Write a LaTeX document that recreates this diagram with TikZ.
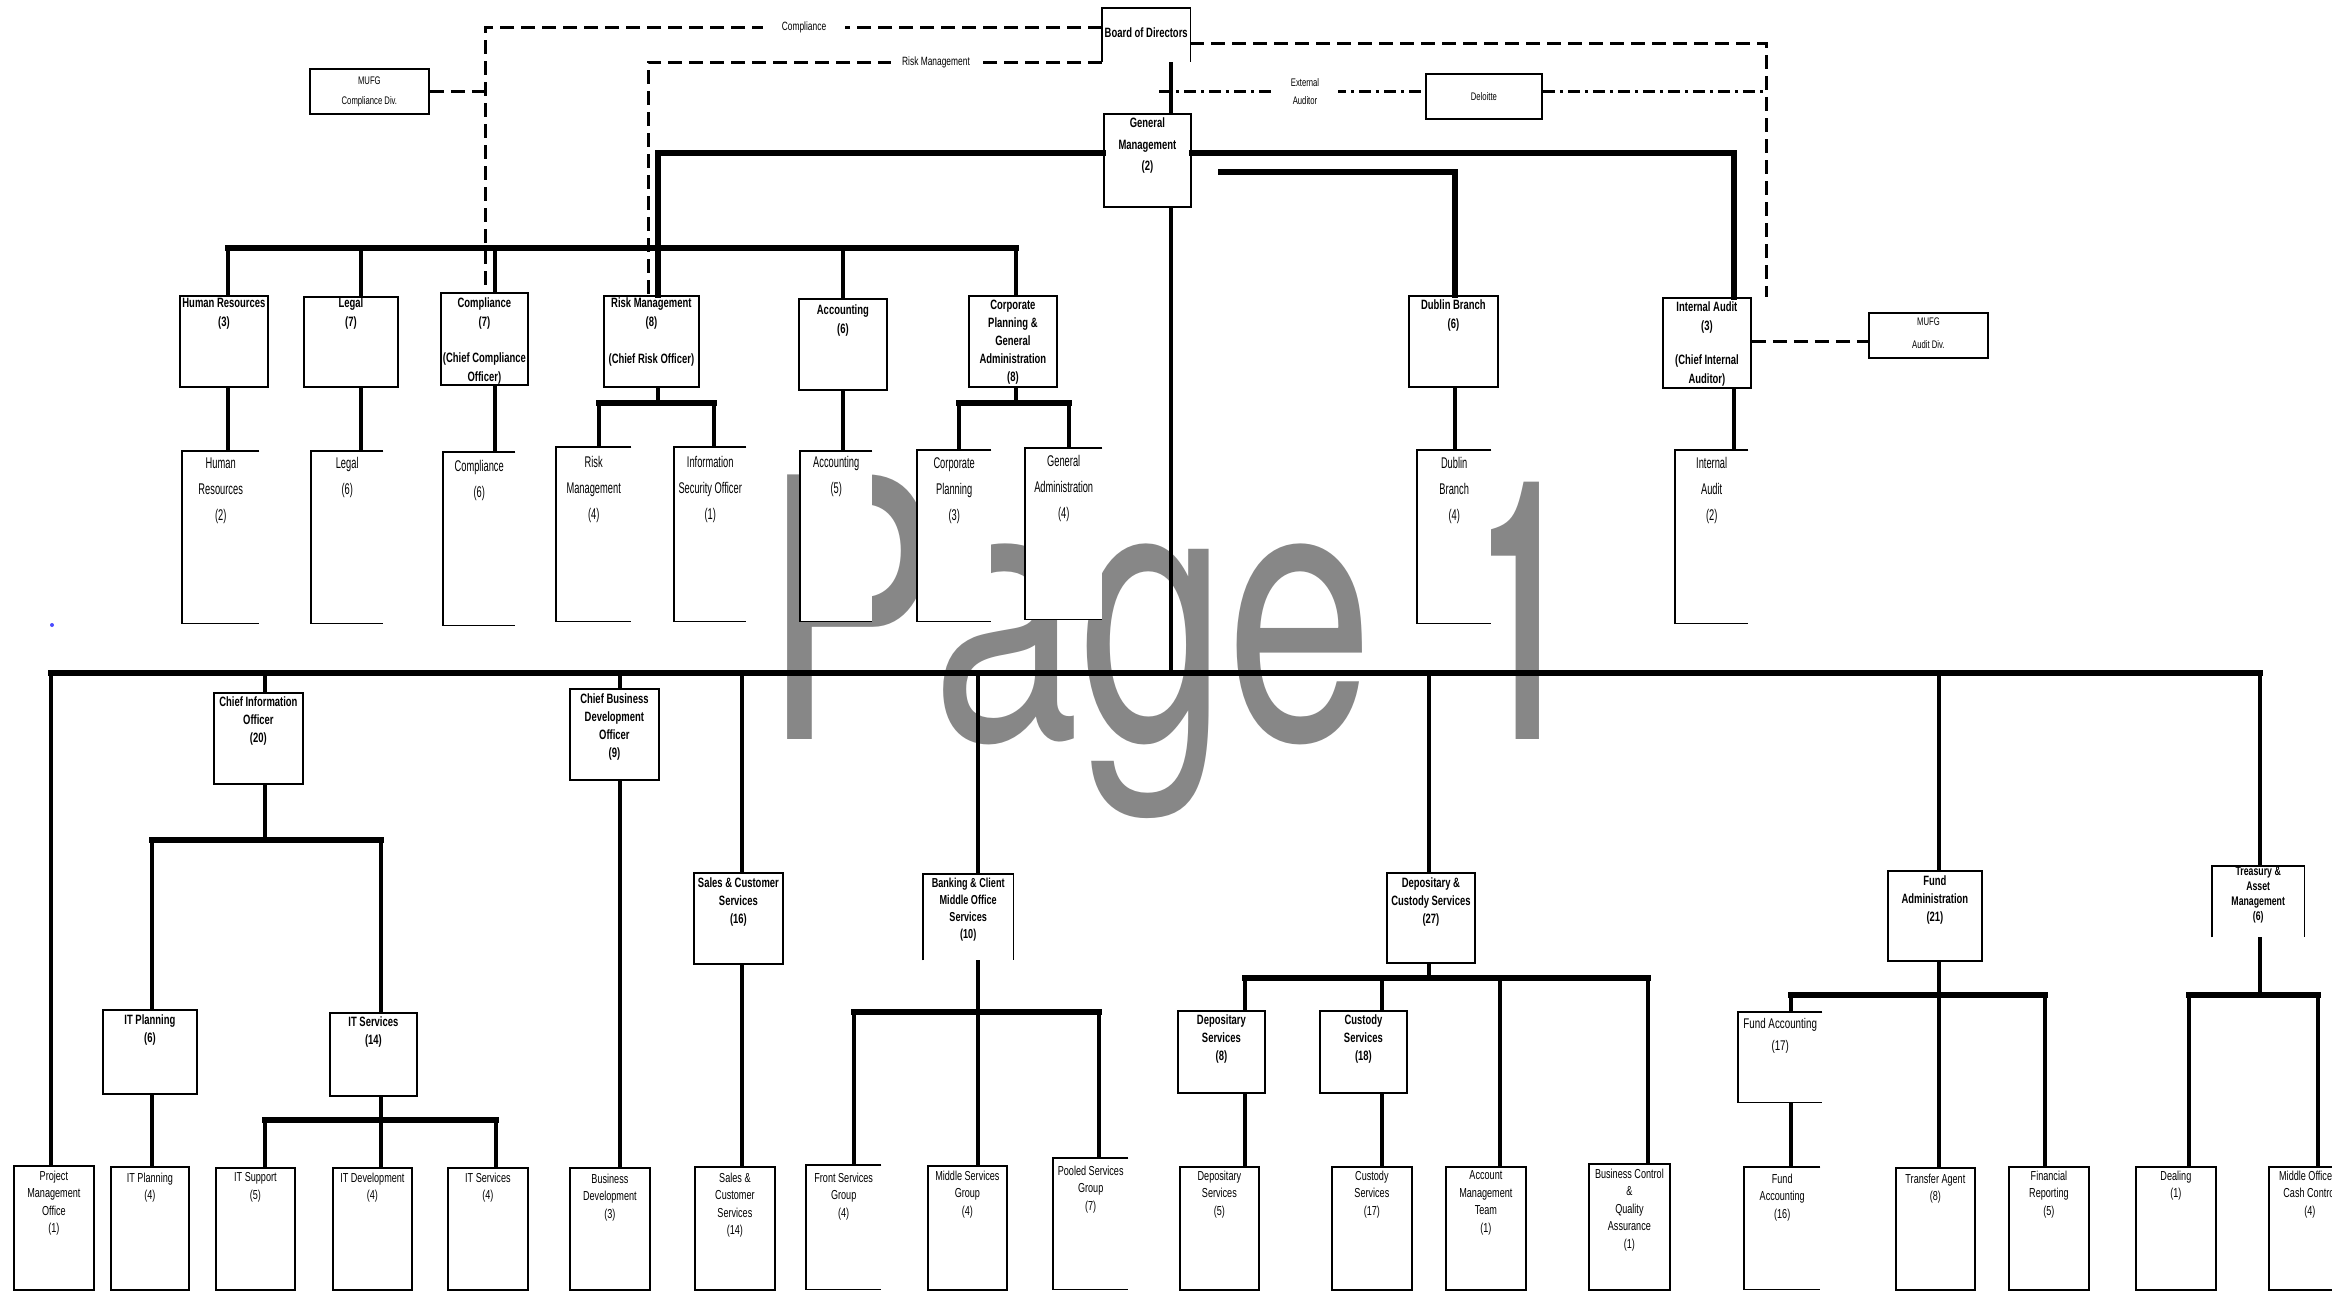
\documentclass[tikz,border=0pt]{standalone}
\usepackage{fontspec}
\newfontfamily\fntA[FakeStretch=0.7]{Liberation Sans}
\newfontfamily\fntB[FakeStretch=0.6]{Liberation Sans}
\newfontfamily\fntW[FakeStretch=0.73]{TeX Gyre Heros}
\definecolor{wmgray}{RGB}{135,135,135}
\tikzset{
 bx/.style={draw, line width=1.8pt, fill=white, inner sep=0pt, anchor=north west},
 obx/.style={fill=white, inner sep=0pt, anchor=north west},
 edg/.style={line width=1.8pt},
 conn/.style={line width=3.5pt},
 bus/.style={line width=5.5pt, line cap=rect},
 dsh/.style={line width=3pt, dash pattern=on 14pt off 7pt},
 ddot/.style={line width=3pt, dash pattern=on 12pt off 5pt on 3pt off 5pt},
 tx/.style={align=center, inner sep=0pt, anchor=north},
 hU/.style={tx, font=\fntA\bfseries\fontsize{13.5}{19}\selectfont},
 hUc/.style={tx, font=\fntA\bfseries\fontsize{13.5}{18}\selectfont},
 hUg/.style={tx, font=\fntA\bfseries\fontsize{13.5}{21.5}\selectfont},
 sU/.style={tx, font=\fntB\fontsize{15.5}{26}\selectfont},
 hL/.style={tx, font=\fntA\bfseries\fontsize{13.5}{18}\selectfont},
 hLb/.style={tx, font=\fntA\bfseries\fontsize{13}{17}\selectfont},
 hLt/.style={tx, font=\fntA\bfseries\fontsize{12.5}{15}\selectfont},
 sF/.style={tx, font=\fntA\fontsize{14}{22}\selectfont},
 sL/.style={tx, font=\fntA\fontsize{13}{17.5}\selectfont},
 sT/.style={tx, font=\fntA\fontsize{11}{20}\selectfont},
 sTa/.style={tx, font=\fntA\fontsize{11}{23}\selectfont},
 lbl/.style={align=center, fill=white, inner ysep=2pt, font=\fntA\fontsize{12}{18}\selectfont},
}
\newcommand\mkbox[9]{%
 \node[#1, minimum width=#5pt, minimum height=#6pt] (#2) at (#3,#4) {};
 \node[#7] (#2t) at ([yshift=-#8pt]#2.north) {#9};}
\newcommand\edgesR[1]{\draw[edg] (#1.north east) -- (#1.north west) -- (#1.south west) -- (#1.south east);}
\newcommand\edgesB[1]{\draw[edg] (#1.south west) -- (#1.north west) -- (#1.north east) -- (#1.south east);}
\begin{document}
\begin{tikzpicture}[x=1pt,y=-1pt]
\useasboundingbox (0,0) rectangle (2332,1291);
\clip (0,0) rectangle (2332,1291);
\fill[white] (0,0) rectangle (2332,1291);
\foreach \v in {51,152,228,265,361,381,485,495,496,599,620,648,658,714,742,843,854,959,978,1016,1069,1099,1159,1171,1221,1245,1382,1429,1455,1500,1648,1734,1766,1791,1939,2045,2189,2260,2318} {\coordinate (v\v) at (\v,0);}
\foreach \h in {27,43,62,91,153,172,248,341,403,673,840,978,995,1012,1120} {\coordinate (h\h) at (0,\h);}
% watermark
\node[font=\fntW\fontsize{363}{400}\selectfont, text=wmgray, anchor=base west, inner sep=0pt] (wm) at (763,739) {Page 1};
\node[circle, fill=blue!70, inner sep=0pt, minimum size=4pt] (dot) at (52,625) {};
% ---- top boxes
\mkbox{obx}{bod}{1102}{8}{88}{54}{hU}{20}{Board of Directors}
\edgesB{bod}
\mkbox{bx}{mufgc}{309}{68}{119}{45}{sT}{9}{MUFG\\Compliance Div.}
\mkbox{bx}{deloitte}{1425}{73}{116}{45}{sT}{19}{Deloitte}
\mkbox{bx}{gm}{1103}{113}{87}{93}{hUg}{5}{General\\Management\\(2)}
\mkbox{bx}{hr}{179}{295}{88}{91}{hU}{3}{Human Resources\\(3)}
\mkbox{bx}{legal}{303}{296}{94}{90}{hU}{2}{Legal\\(7)}
\mkbox{bx}{comp}{440}{292}{87}{92}{hU}{6}{Compliance\\(7)\\[17pt](Chief Compliance\\Officer)}
\mkbox{bx}{rm}{603}{295}{95}{91}{hU}{3}{Risk Management\\(8)\\[18pt](Chief Risk Officer)}
\mkbox{bx}{acct}{798}{298}{88}{91}{hU}{7}{Accounting\\(6)}
\mkbox{bx}{cpga}{968}{295}{88}{91}{hUc}{5}{Corporate\\Planning \&\\General\\Administration\\(8)}
\mkbox{bx}{dublin}{1408}{295}{89}{91}{hU}{5}{Dublin Branch\\(6)}
\mkbox{bx}{ia}{1662}{297}{88}{90}{hU}{5}{Internal Audit\\(3)\\[15pt](Chief Internal\\Auditor)}
\mkbox{bx}{mufga}{1868}{312}{119}{45}{sTa}{6}{MUFG\\Audit Div.}
% ---- upper sub boxes
\mkbox{obx}{hrs}{182}{451}{77}{172}{sU}{6.5}{Human\\Resources\\(2)}\edgesR{hrs}
\mkbox{obx}{legals}{311}{451}{72}{172}{sU}{6.5}{Legal\\(6)}\edgesR{legals}
\mkbox{obx}{comps}{443}{452}{72}{173}{sU}{8.5}{Compliance\\(6)}\edgesR{comps}
\mkbox{obx}{rms}{556}{447}{75}{174}{sU}{9.5}{Risk\\Management\\(4)}\edgesR{rms}
\mkbox{obx}{iso}{674}{447}{72}{174}{sU}{9.5}{Information\\Security Officer\\(1)}\edgesR{iso}
\mkbox{obx}{accts}{800}{451}{72}{170}{sU}{5.5}{Accounting\\(5)}\edgesR{accts}
\mkbox{obx}{cps}{917}{450}{74}{171}{sU}{7.5}{Corporate\\Planning\\(3)}\edgesR{cps}
\mkbox{obx}{gas}{1025}{448}{77}{171}{sU}{7.5}{General\\Administration\\(4)}\edgesR{gas}
\mkbox{obx}{dubs}{1417}{450}{74}{173}{sU}{7.5}{Dublin\\Branch\\(4)}\edgesR{dubs}
\mkbox{obx}{ias}{1675}{450}{73}{173}{sU}{7.5}{Internal\\Audit\\(2)}\edgesR{ias}
% ---- lower header boxes
\mkbox{bx}{cio}{213}{692}{89}{91}{hL}{5}{Chief Information\\Officer\\(20)}
\mkbox{bx}{cbdo}{569}{688}{89}{91}{hL}{6}{Chief Business\\Development\\Officer\\(9)}
\mkbox{bx}{scs}{693}{872}{89}{91}{hL}{6}{Sales \& Customer\\Services\\(16)}
\mkbox{obx}{bcm}{923}{874}{90}{86}{hLb}{4}{Banking \& Client\\Middle Office\\Services\\(10)}\edgesB{bcm}
\mkbox{bx}{dcs}{1386}{872}{88}{90}{hL}{6}{Depositary \&\\Custody Services\\(27)}
\mkbox{bx}{fa}{1887}{870}{94}{90}{hL}{6}{Fund\\Administration\\(21)}
\mkbox{obx}{tam}{2212}{866}{92}{71}{hLt}{0.5}{Treasury \&\\Asset\\Management\\(6)}\edgesB{tam}
\mkbox{bx}{itp}{102}{1009}{94}{84}{hL}{6}{IT Planning\\(6)}
\mkbox{bx}{its}{329}{1012}{87}{83}{hL}{5}{IT Services\\(14)}
\mkbox{bx}{ds}{1177}{1010}{87}{82}{hL}{5}{Depositary\\Services\\(8)}
\mkbox{bx}{cs}{1319}{1010}{87}{82}{hL}{5}{Custody\\Services\\(18)}
\mkbox{obx}{fac}{1738}{1012}{84}{90}{sF}{6}{Fund Accounting\\(17)}\edgesR{fac}
% ---- lower sub boxes
\mkbox{bx}{pmo}{13}{1165}{80}{124}{sL}{5.5}{Project\\Management\\Office\\(1)}
\mkbox{bx}{itps}{110}{1166}{78}{123}{sL}{6.5}{IT Planning\\(4)}
\mkbox{bx}{itsup}{215}{1167}{79}{122}{sL}{5.5}{IT Support\\(5)}
\mkbox{bx}{itdev}{332}{1167}{79}{122}{sL}{5.5}{IT Development\\(4)}
\mkbox{bx}{itsrv}{447}{1167}{80}{122}{sL}{5.5}{IT Services\\(4)}
\mkbox{bx}{bd}{569}{1167}{80}{122}{sL}{6.5}{Business\\Development\\(3)}
\mkbox{bx}{scss}{694}{1166}{80}{123}{sL}{6.5}{Sales \&\\Customer\\Services\\(14)}
\mkbox{obx}{fsg}{806}{1165}{75}{124}{sL}{7.5}{Front Services\\Group\\(4)}\edgesR{fsg}
\mkbox{bx}{msg}{927}{1165}{79}{124}{sL}{5.5}{Middle Services\\Group\\(4)}
\mkbox{obx}{psg}{1053}{1158}{75}{131}{sL}{7.5}{Pooled Services\\Group\\(7)}\edgesR{psg}
\mkbox{bx}{dss}{1179}{1166}{79}{123}{sL}{4.5}{Depositary\\Services\\(5)}
\mkbox{bx}{css}{1331}{1166}{80}{123}{sL}{4.5}{Custody\\Services\\(17)}
\mkbox{bx}{amt}{1445}{1166}{80}{123}{sL}{4.5}{Account\\Management\\Team\\(1)}
\mkbox{bx}{bcqa}{1588}{1163}{81}{126}{sL}{5.5}{Business Control\\\&\\Quality\\Assurance\\(1)}
\mkbox{obx}{facs}{1744}{1167}{76}{122}{sL}{6.5}{Fund\\Accounting\\(16)}\edgesR{facs}
\mkbox{bx}{ta}{1895}{1167}{79}{122}{sL}{6.5}{Transfer Agent\\(8)}
\mkbox{bx}{fr}{2008}{1166}{80}{123}{sL}{4.5}{Financial\\Reporting\\(5)}
\mkbox{bx}{deal}{2135}{1166}{80}{123}{sL}{4.5}{Dealing\\(1)}
\mkbox{bx}{moc}{2268}{1166}{82}{123}{sL}{4.5}{Middle Office \&\\Cash Control\\(4)}
% ---- top connectors
\draw[conn] (bod.south -| v1171) -- (gm.north -| v1171);
\draw[dsh] (bod.west |- h27) -- (v485 |- h27) -- (comp.north -| v485);
\draw[dsh] (mufgc.east) -- (mufgc.east -| v485);
\draw[dsh] (bod.west |- h62) -- (v648 |- h62) -- (rm.north -| v648);
\draw[dsh] (bod.east |- h43) -- (v1766 |- h43) -- (ia.north -| v1766);
\draw[ddot] (v1159 |- h91) -- (deloitte.west |- h91);
\draw[ddot] (deloitte.east |- h91) -- (v1766 |- h91);
\node[lbl, inner xsep=19pt] (lcomp) at (804,27) {Compliance};
\node[lbl, inner xsep=11pt] (lrisk) at (936,62) {Risk Management};
\node[lbl, inner xsep=19pt, font=\fntA\fontsize{11}{18}\selectfont] (lext) at (1305,92) {External\\Auditor};
\draw[bus] (gm.west |- h153) -- (v658 |- h153) -- (rm.north -| v658);
\draw[bus] (gm.east |- h153) -- (v1734 |- h153) -- (ia.north -| v1734);
\draw[bus] (v1221 |- h172) -- (v1455 |- h172) -- (dublin.north -| v1455);
\draw[conn] (gm.south -| v1171) -- (v1171 |- h673);
\draw[bus] (v228 |- h248) -- (v1016 |- h248);
\draw[conn] (v228 |- h248) -- (hr.north -| v228);
\draw[conn] (v361 |- h248) -- (legal.north -| v361);
\draw[conn] (v495 |- h248) -- (comp.north -| v495);
\draw[conn] (v843 |- h248) -- (acct.north -| v843);
\draw[conn] (v1016 |- h248) -- (cpga.north -| v1016);
\draw[conn] (hr.south -| v228) -- (hrs.north -| v228);
\draw[conn] (legal.south -| v361) -- (legals.north -| v361);
\draw[conn] (comp.south -| v495) -- (comps.north -| v495);
\draw[conn] (rm.south -| v658) -- (v658 |- h403);
\draw[bus] (v599 |- h403) -- (v714 |- h403);
\draw[conn] (v599 |- h403) -- (rms.north -| v599);
\draw[conn] (v714 |- h403) -- (iso.north -| v714);
\draw[conn] (acct.south -| v843) -- (accts.north -| v843);
\draw[conn] (cpga.south -| v1016) -- (v1016 |- h403);
\draw[bus] (v959 |- h403) -- (v1069 |- h403);
\draw[conn] (v959 |- h403) -- (cps.north -| v959);
\draw[conn] (v1069 |- h403) -- (gas.north -| v1069);
\draw[conn] (dublin.south -| v1455) -- (dubs.north -| v1455);
\draw[conn] (ia.south -| v1734) -- (ias.north -| v1734);
\draw[dsh] (ia.east |- h341) -- (mufga.west |- h341);
% ---- lower connectors
\draw[bus] (v51 |- h673) -- (v2260 |- h673);
\draw[conn] (v51 |- h673) -- (pmo.north -| v51);
\draw[conn] (v265 |- h673) -- (cio.north -| v265);
\draw[conn] (cio.south -| v265) -- (v265 |- h840);
\draw[bus] (v152 |- h840) -- (v381 |- h840);
\draw[conn] (v152 |- h840) -- (itp.north -| v152);
\draw[conn] (v381 |- h840) -- (its.north -| v381);
\draw[conn] (itp.south -| v152) -- (itps.north -| v152);
\draw[conn] (its.south -| v381) -- (v381 |- h1120);
\draw[bus] (v265 |- h1120) -- (v496 |- h1120);
\draw[conn] (v265 |- h1120) -- (itsup.north -| v265);
\draw[conn] (v381 |- h1120) -- (itdev.north -| v381);
\draw[conn] (v496 |- h1120) -- (itsrv.north -| v496);
\draw[conn] (v620 |- h673) -- (cbdo.north -| v620);
\draw[conn] (cbdo.south -| v620) -- (bd.north -| v620);
\draw[conn] (v742 |- h673) -- (scs.north -| v742);
\draw[conn] (scs.south -| v742) -- (scss.north -| v742);
\draw[conn] (v978 |- h673) -- (bcm.north -| v978);
\draw[conn] (bcm.south -| v978) -- (v978 |- h1012);
\draw[bus] (v854 |- h1012) -- (v1099 |- h1012);
\draw[conn] (v854 |- h1012) -- (fsg.north -| v854);
\draw[conn] (v978 |- h1012) -- (msg.north -| v978);
\draw[conn] (v1099 |- h1012) -- (psg.north -| v1099);
\draw[conn] (v1429 |- h673) -- (dcs.north -| v1429);
\draw[conn] (dcs.south -| v1429) -- (v1429 |- h978);
\draw[bus] (v1245 |- h978) -- (v1648 |- h978);
\draw[conn] (v1245 |- h978) -- (ds.north -| v1245);
\draw[conn] (v1382 |- h978) -- (cs.north -| v1382);
\draw[conn] (v1500 |- h978) -- (amt.north -| v1500);
\draw[conn] (v1648 |- h978) -- (bcqa.north -| v1648);
\draw[conn] (ds.south -| v1245) -- (dss.north -| v1245);
\draw[conn] (cs.south -| v1382) -- (css.north -| v1382);
\draw[conn] (v1939 |- h673) -- (fa.north -| v1939);
\draw[conn] (fa.south -| v1939) -- (v1939 |- h995);
\draw[bus] (v1791 |- h995) -- (v2045 |- h995);
\draw[conn] (v1791 |- h995) -- (fac.north -| v1791);
\draw[conn] (v1939 |- h995) -- (ta.north -| v1939);
\draw[conn] (v2045 |- h995) -- (fr.north -| v2045);
\draw[conn] (fac.south -| v1791) -- (facs.north -| v1791);
\draw[conn] (v2260 |- h673) -- (tam.north -| v2260);
\draw[conn] (tam.south -| v2260) -- (v2260 |- h995);
\draw[bus] (v2189 |- h995) -- (v2318 |- h995);
\draw[conn] (v2189 |- h995) -- (deal.north -| v2189);
\draw[conn] (v2318 |- h995) -- (moc.north -| v2318);
\end{tikzpicture}
\end{document}
